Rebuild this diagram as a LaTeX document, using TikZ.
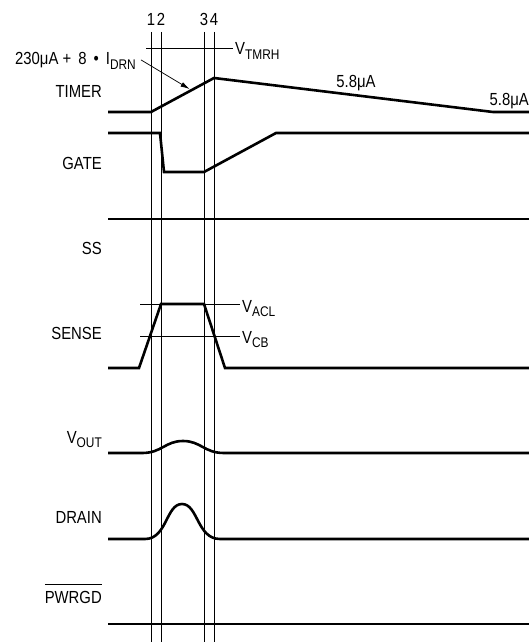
\documentclass[tikz,border=0pt]{standalone}
\usepackage{fontspec}
\setmainfont{Liberation Sans}[FakeStretch=0.85]
\usetikzlibrary{arrows.meta}
\newcommand{\lsub}[1]{\raisebox{-0.23em}{\fontsize{14}{14}\selectfont #1}}
\begin{document}
\begin{tikzpicture}[x=1pt, y=-1pt, >={Latex[length=9pt,width=5pt]}]
    \tikzstyle{wave}=[line width=2.6pt]
    \tikzstyle{guide}=[line width=0.7pt]
    \tikzstyle{lbl}=[inner sep=0pt, font=\fontsize{17.5}{20}\selectfont]
    \useasboundingbox (0,0) rectangle (529,642);
    % time markers
    \foreach \x/\t in {151/1,161/2,204/3,214/4} {
      \draw[guide] (\x,32) -- (\x,642);
      \node[lbl, anchor=base] (t\t) at (\x,26) {\t};
    }
    % signal names
    \node[lbl, anchor=base east] (timer) at (102,97) {TIMER};
    \node[lbl, anchor=base east] (gate) at (102,169) {GATE};
    \node[lbl, anchor=base east] (ss) at (102,254) {SS};
    \node[lbl, anchor=base east] (sense) at (102,339) {SENSE};
    \node[lbl, anchor=base east] (vout) at (102,443) {V\lsub{OUT}};
    \node[lbl, anchor=base east] (drain) at (102,523) {DRAIN};
    \node[lbl, anchor=base east] (pwrgd) at (102,603) {\vbox{\hrule height 0.7pt \vskip 6pt \hbox{PWRGD}}};
    % TIMER
    \draw[wave] (108,112) -- (151,112) -- (214,78) -- (493,112) -- (529,112);
    \draw[guide] (146,48) -- (233,48);
    \node[lbl, anchor=base west] (vtmrh) at (235,55) {V\lsub{TMRH}};
    \node[lbl, anchor=base east] (islope) at (136,65) {230μA + \,8 \,•\, I\lsub{DRN}};
    \coordinate (ramp) at (189.5,89);
    \draw[guide, ->] ([shift={(5,-1)}]islope.east) -- (ramp);
    \node[lbl, anchor=base] (idown) at (356,88) {5.8μA};
    \node[lbl, anchor=base east] (ihold) at (529,105) {5.8μA};
    % GATE
    \draw[wave] (108,133) -- (160,133) -- (164,172) -- (204,172) -- (276,133) -- (529,133);
    % SS
    \draw[wave] (108,219) -- (529,219);
    % SENSE
    \draw[guide] (140,304) -- (240,304);
    \draw[guide] (140,336) -- (240,336);
    \node[lbl, anchor=base west] (vacl) at (242,312) {V\lsub{ACL}};
    \node[lbl, anchor=base west] (vcb) at (242,343) {V\lsub{CB}};
    \draw[wave] (108,368) -- (139,368) -- (161,304) -- (204,304) -- (225,368) -- (529,368);
    % VOUT
    \draw[wave] (108,453) -- (142,453) .. controls (162,453) and (165,441) .. (183,441)
      .. controls (201,441) and (204,453) .. (224,453) -- (529,453);
    % DRAIN
    \draw[wave] (108,539) -- (145,539) .. controls (167,539) and (166,504) .. (182,504)
      .. controls (198,504) and (197,539) .. (220,539) -- (529,539);
    % PWRGD
    \draw[wave] (108,624) -- (529,624);
\end{tikzpicture}
\end{document}
